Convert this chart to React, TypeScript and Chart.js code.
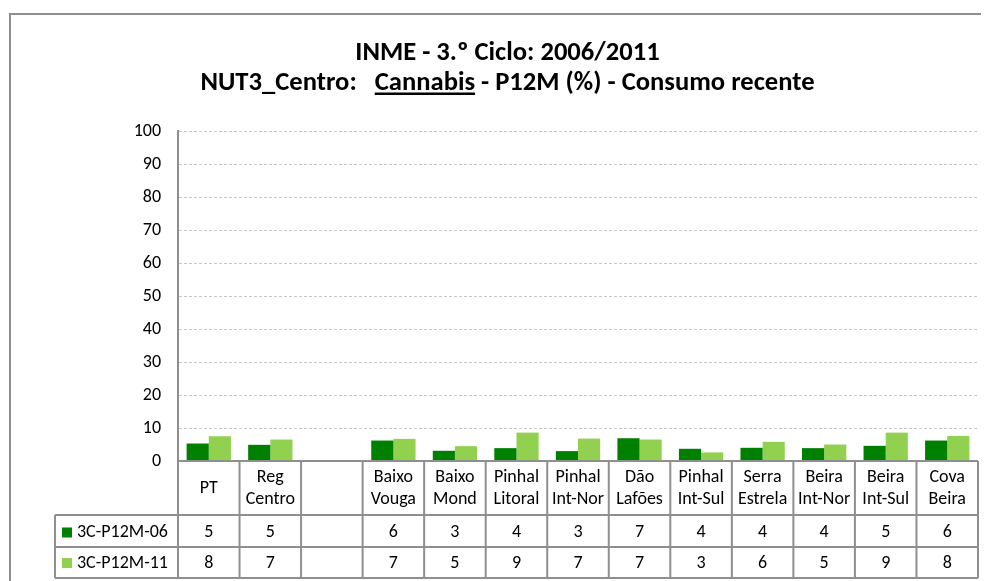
import React, { useEffect, useRef } from "react";
import { Chart, registerables } from "chart.js";

Chart.register(...registerables);

const titleLine1 = "INME - 3.º Ciclo: 2006/2011";
const titleLine2 = ["NUT3_Centro:   ", "Cannabis", " - P12M (%) - Consumo recente"];

const categories: string[][] = [
  ["PT"],
  ["Reg", "Centro"],
  [],
  ["Baixo", "Vouga"],
  ["Baixo", "Mond"],
  ["Pinhal", "Litoral"],
  ["Pinhal", "Int-Nor"],
  ["Dão", "Lafões"],
  ["Pinhal", "Int-Sul"],
  ["Serra", "Estrela"],
  ["Beira", "Int-Nor"],
  ["Beira", "Int-Sul"],
  ["Cova", "Beira"],
];

const seriesNames = ["3C-P12M-06", "3C-P12M-11"];
const series06: (number | null)[] = [5.3, 4.9, null, 6.2, 3.1, 3.9, 3.0, 6.9, 3.7, 4.0, 3.9, 4.6, 6.2];
const series11: (number | null)[] = [7.5, 6.5, null, 6.7, 4.5, 8.6, 6.8, 6.5, 2.6, 5.8, 5.0, 8.6, 7.6];
const seriesColors = ["#008000", "#92D050"];

const yMin = 0;
const yMax = 100;
const yStep = 10;

const FONT = "Carlito, Lato, sans-serif";
const LINE = "#8f8f8f";

const framePlugin = {
  id: "frameAndTitle",
  beforeDraw(chart: any) {
    const ctx = chart.ctx;
    ctx.save();
    ctx.strokeStyle = LINE;
    ctx.lineWidth = 2;
    ctx.strokeRect(2, 6, 2000, 2000);
    ctx.restore();
  },
  afterDraw(chart: any) {
    const ctx = chart.ctx;
    const cx = chart.width / 2 + 9;
    ctx.save();
    ctx.fillStyle = "#000";
    ctx.font = `bold 26.6px ${FONT}`;
    ctx.textBaseline = "alphabetic";
    ctx.textAlign = "center";
    ctx.fillText(titleLine1, cx, 52);
    const widths = titleLine2.map((s) => ctx.measureText(s).width);
    const total = widths.reduce((a, b) => a + b, 0);
    let x = cx - total / 2;
    ctx.textAlign = "left";
    titleLine2.forEach((s, i) => {
      ctx.fillText(s, x, 82);
      if (i === 1) {
        ctx.fillRect(x, 84.5, widths[i], 2.5);
      }
      x += widths[i];
    });
    ctx.restore();
  },
};

const tablePlugin = {
  id: "dataTable",
  afterDraw(chart: any) {
    const ctx = chart.ctx;
    const area = chart.chartArea;
    const xs = chart.scales.x;
    const n = categories.length;
    const w = (area.right - area.left) / n;
    const top = area.bottom;
    const r1 = top + 54;
    const r2 = r1 + 32;
    const r3 = r2 + 31;
    const legLeft = 47;
    ctx.save();
    ctx.strokeStyle = LINE;
    ctx.lineWidth = 2;
    ctx.beginPath();
    ctx.moveTo(area.left, top);
    ctx.lineTo(area.right, top);
    [r1, r2, r3].forEach((y) => {
      ctx.moveTo(legLeft, y);
      ctx.lineTo(area.right, y);
    });
    for (let i = 0; i <= n; i++) {
      const xx = xs.getPixelForValue(0) - w / 2 + i * w;
      ctx.moveTo(xx, top);
      ctx.lineTo(xx, r3);
    }
    ctx.moveTo(legLeft, r1);
    ctx.lineTo(legLeft, r3);
    ctx.stroke();

    ctx.fillStyle = "#000";
    ctx.font = `18px ${FONT}`;
    ctx.textAlign = "center";
    ctx.textBaseline = "middle";
    const rows = [series06, series11];
    categories.forEach((lines, i) => {
      const xc = xs.getPixelForValue(i);
      const mid = (top + r1) / 2;
      if (lines.length === 1) ctx.fillText(lines[0], xc, mid);
      if (lines.length === 2) {
        ctx.fillText(lines[0], xc, mid - 11);
        ctx.fillText(lines[1], xc, mid + 11);
      }
      rows.forEach((row, k) => {
        const v = row[i];
        if (v === null) return;
        const yc = k === 0 ? (r1 + r2) / 2 + 1.5 : (r2 + r3) / 2 + 0.5;
        ctx.fillText(String(Math.round(v)), xc, yc);
      });
    });
    ctx.textAlign = "left";
    seriesNames.forEach((name, k) => {
      const yc = k === 0 ? (r1 + r2) / 2 + 1.5 : (r2 + r3) / 2 + 0.5;
      ctx.fillStyle = seriesColors[k];
      ctx.fillRect(legLeft + 7, yc - 5, 10, 10);
      ctx.fillStyle = "#000";
      ctx.fillText(name, legLeft + 22, yc);
    });
    ctx.restore();
  },
};

export default function App() {
  const ref = useRef<HTMLCanvasElement>(null);
  useEffect(() => {
    document.body.style.overflow = "hidden";
    const canvas = ref.current;
    if (!canvas) return;
    const chart = new Chart(canvas, {
      type: "bar",
      data: {
        labels: categories.map((c) => c.join(" ")),
        datasets: [
          {
            label: seriesNames[0],
            data: series06,
            backgroundColor: seriesColors[0],
            categoryPercentage: 0.72,
            barPercentage: 1,
          },
          {
            label: seriesNames[1],
            data: series11,
            backgroundColor: seriesColors[1],
            categoryPercentage: 0.72,
            barPercentage: 1,
          },
        ],
      },
      options: {
        responsive: false,
        animation: false,
        layout: { padding: { top: 123, bottom: 120, right: 11, left: 0 } },
        plugins: {
          legend: { display: false },
          title: { display: false },
          tooltip: { enabled: false },
        },
        scales: {
          x: { display: false },
          y: {
            min: yMin,
            max: yMax,
            afterFit: (scale: any) => {
              scale.width = 170;
            },
            ticks: {
              stepSize: yStep,
              padding: 17,
              color: "#000",
              font: { family: FONT, size: 18 },
            },
            grid: {
              drawTicks: false,
              tickLength: 0,
              lineWidth: 1,
              color: (c: any) => (c.tick && c.tick.value === 0 ? "rgba(0,0,0,0)" : "#c8c8c8"),
            },
            border: { display: true, color: LINE, width: 2, dash: [3, 2] },
          },
        },
      },
      plugins: [framePlugin, tablePlugin],
    });
    return () => chart.destroy();
  }, []);
  return <canvas ref={ref} width={981} height={573} style={{ display: "block" }} />;
}
